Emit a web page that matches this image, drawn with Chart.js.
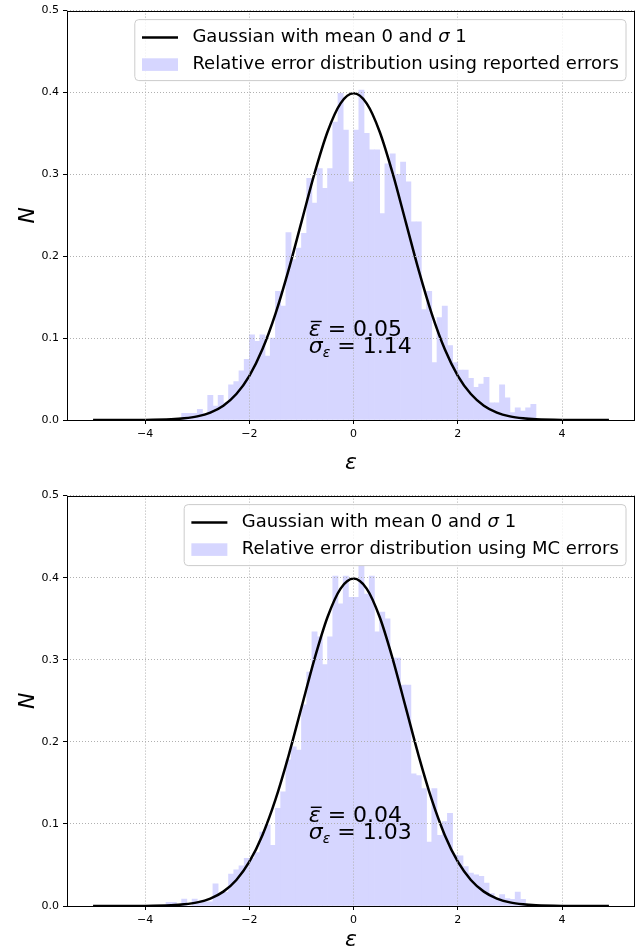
<!DOCTYPE html>
<html>
<head>
<meta charset="utf-8">
<script src="https://cdn.jsdelivr.net/npm/chart.js@4.4.1/dist/chart.umd.min.js"></script>
<style>
html,body{margin:0;padding:0;background:#fff;}
#wrap{position:relative;width:643px;height:948px;overflow:hidden;}
canvas{position:absolute;left:0;}
</style>
</head>
<body>
<div id="wrap">
<canvas id="topChart" width="643" height="480" style="top:0"></canvas>
<canvas id="bottomChart" width="643" height="463" style="top:485px"></canvas>
</div>
<script>
// histogram bins (width 0.1)
const binCenters = [-3.55,-3.45,-3.35,-3.25,-3.15,-3.05,-2.95,-2.85,-2.75,-2.65,-2.55,-2.45,-2.35,-2.25,-2.15,-2.05,
  -1.95,-1.85,-1.75,-1.65,-1.55,-1.45,-1.35,-1.25,-1.15,-1.05,-0.95,-0.85,-0.75,-0.65,-0.55,-0.45,-0.35,-0.25,-0.15,-0.05,
  0.05,0.15,0.25,0.35,0.45,0.55,0.65,0.75,0.85,0.95,1.05,1.15,1.25,1.35,1.45,1.55,1.65,1.75,1.85,1.95,
  2.05,2.15,2.25,2.35,2.45,2.55,2.65,2.75,2.85,2.95,3.05,3.15,3.25,3.35,3.45];

// reported errors
const topCounts = [0,0,0,0.008,0.008,0.008,0.013,0.008,0.030,0.017,0.030,0.021,0.043,0.047,0.060,0.074,
  0.104,0.096,0.104,0.078,0.100,0.157,0.139,0.229,0.196,0.210,0.228,0.295,0.265,0.307,0.283,0.307,0.364,0.399,0.354,0.291,
  0.354,0.403,0.350,0.330,0.330,0.252,0.313,0.325,0.300,0.315,0.291,0.242,0.242,0.135,0.157,0.070,0.125,0.139,0.091,0.070,
  0.061,0.061,0.051,0.040,0.044,0.052,0.021,0.021,0.043,0.027,0.009,0.015,0.011,0.015,0.019];

// MC errors
const bottomCounts = [0.0045,0.0045,0,0.0085,0,0.0085,0.005,0.005,0.005,0.027,0.015,0.017,0.039,0.044,0.049,0.058,
  0.058,0.065,0.090,0.099,0.074,0.119,0.139,0.178,0.194,0.190,0.245,0.285,0.334,0.328,0.294,0.328,0.402,0.368,0.402,0.376,
  0.376,0.415,0.380,0.402,0.334,0.358,0.350,0.302,0.302,0.269,0.269,0.161,0.159,0.143,0.078,0.143,0.086,0.103,0.113,0.062,
  0.061,0.048,0.040,0.038,0.036,0.028,0.015,0.009,0.014,0.009,0.008,0.017,0.008,0,0];

// gaussian curve
const gaussX = [-5,-4.5,-4,-3.5,-3.25,-3,-2.75,-2.5,-2.25,-2,-1.75,-1.5,-1.25,-1,-0.75,-0.5,-0.25,0,
  0.25,0.5,0.75,1,1.25,1.5,1.75,2,2.25,2.5,2.75,3,3.25,3.5,4,4.5,4.9];
const gaussY = [0,0.00002,0.00013,0.00087,0.00203,0.00443,0.00909,0.01753,0.03174,0.05399,0.08628,0.12952,0.18265,0.24197,0.30114,0.35207,0.38667,0.39894,
  0.38667,0.35207,0.30114,0.24197,0.18265,0.12952,0.08628,0.05399,0.03174,0.01753,0.00909,0.00443,0.00203,0.00087,0.00013,0.00002,0];

const xTickValues = [-4,-2,0,2,4];
const xTickLabels = ['\u22124','\u22122','0','2','4'];
const yTickValues = [0,0.1,0.2,0.3,0.4,0.5];
const yTickLabels = ['0.0','0.1','0.2','0.3','0.4','0.5'];

const gaussLabel = 'Gaussian with mean 0 and σ 1';
const topHistLabel = 'Relative error distribution using reported errors';
const bottomHistLabel = 'Relative error distribution using MC errors';
const topStats = ['0.05','1.14'];
const bottomStats = ['0.04','1.03'];

const HIST = '#d6d6ff';
const FAM = '"DejaVu Sans", sans-serif';
Chart.defaults.font.family = FAM;
Chart.defaults.color = '#000';

// draw text pieces, some italic / lowered
function runs(ctx, parts, x, y, draw) {
  let cx = x;
  parts.forEach(p => {
    ctx.font = p.f;
    if (draw) ctx.fillText(p.t, cx, y + (p.dy || 0));
    cx += ctx.measureText(p.t).width;
  });
  return cx - x;
}

function labelParts(txt) {
  const i = txt.indexOf('σ');
  const reg = '18px ' + FAM, it = 'italic 18px ' + FAM;
  if (i < 0) return [{t: txt, f: reg}];
  return [{t: txt.slice(0, i), f: reg}, {t: 'σ', f: it}, {t: txt.slice(i + 1), f: reg}];
}

function decor(histLabel, stats) {
  return {
    id: 'decor',
    afterDraw(chart) {
      const ctx = chart.ctx, ca = chart.chartArea;
      const xs = chart.scales.x, ys = chart.scales.y;
      ctx.save();
      ctx.fillStyle = '#000';
      ctx.textBaseline = 'alphabetic';

      // stats text
      const x0 = xs.getPixelForValue(-0.86);
      const b1 = ys.getPixelForValue(0.102), b2 = ys.getPixelForValue(0.082);
      const reg = '22px ' + FAM, it = 'italic 22px ' + FAM;
      ctx.font = it;
      const we = ctx.measureText('ε').width;
      runs(ctx, [{t: 'ε', f: it}, {t: ' = ' + stats[0], f: reg}], x0, b1, true);
      ctx.strokeStyle = '#000'; ctx.lineWidth = 1.4;
      ctx.beginPath(); ctx.moveTo(x0 + 2, b1 - 15); ctx.lineTo(x0 + we + 1, b1 - 15); ctx.stroke();
      runs(ctx, [{t: 'σ', f: it}, {t: 'ε', f: 'italic 14px ' + FAM, dy: 4}, {t: ' = ' + stats[1], f: reg}], x0, b2, true);

      // legend
      const rows = [labelParts(gaussLabel), labelParts(histLabel)];
      const tw = Math.max(...rows.map(r => runs(ctx, r, 0, 0, false)));
      const right = ca.right - 9, top = ca.top + 9;
      const left = right - (7.2 + 36 + 14.4 + tw + 7.2);
      const bottom = top + 61;
      const r = 4;
      ctx.beginPath();
      ctx.moveTo(left + r, top);
      ctx.arcTo(right, top, right, bottom, r);
      ctx.arcTo(right, bottom, left, bottom, r);
      ctx.arcTo(left, bottom, left, top, r);
      ctx.arcTo(left, top, right, top, r);
      ctx.closePath();
      ctx.fillStyle = 'rgba(255,255,255,0.8)';
      ctx.fill();
      ctx.strokeStyle = '#cccccc'; ctx.lineWidth = 1;
      ctx.stroke();

      const hx = left + 7.2, tx = hx + 36 + 14.4;
      const r1 = top + 18, r2 = top + 45;
      ctx.strokeStyle = '#000'; ctx.lineWidth = 2.5;
      ctx.beginPath(); ctx.moveTo(hx, r1); ctx.lineTo(hx + 36, r1); ctx.stroke();
      ctx.fillStyle = HIST;
      ctx.fillRect(hx, r2 - 6.3, 36, 12.6);
      ctx.fillStyle = '#000';
      ctx.textBaseline = 'middle';
      runs(ctx, rows[0], tx, r1, true);
      runs(ctx, rows[1], tx, r2, true);

      // axes frame
      ctx.strokeStyle = '#000'; ctx.lineWidth = 1;
      ctx.strokeRect(Math.round(ca.left) + 0.5, Math.round(ca.top) + 0.5,
        Math.round(ca.right - ca.left) - 1, Math.round(ca.bottom - ca.top));
      ctx.restore();
    }
  };
}

function makeChart(id, counts, histLabel, stats, xAxisHeight, xTitlePad) {
  const gridOpts = {color: '#b0b0b0', lineWidth: 1, tickColor: '#000', tickLength: 4, z: 1, offset: false};
  const borderOpts = {display: false, dash: [1, 2]};
  return new Chart(document.getElementById(id), {
    type: 'bar',
    data: {
      datasets: [{
        type: 'line',
        label: gaussLabel,
        data: gaussX.map((x, i) => ({x: x, y: gaussY[i]})),
        borderColor: '#000',
        borderWidth: 2.5,
        pointRadius: 0,
        cubicInterpolationMode: 'monotone',
        fill: false
      }, {
        type: 'bar',
        label: histLabel,
        data: binCenters.map((x, i) => ({x: x, y: counts[i]})),
        backgroundColor: HIST,
        borderWidth: 0,
        barPercentage: 1,
        categoryPercentage: 1
      }]
    },
    options: {
      responsive: false,
      animation: false,
      devicePixelRatio: 1,
      events: [],
      layout: {padding: {top: 10, right: 8, bottom: 0, left: 0}},
      plugins: {legend: {display: false}, tooltip: {enabled: false}},
      scales: {
        x: {
          type: 'linear', min: -5.5, max: 5.4, offset: false,
          afterBuildTicks: s => { s.ticks = xTickValues.map(v => ({value: v})); },
          afterFit: s => { s.height = xAxisHeight; },
          ticks: {callback: (v, i) => xTickLabels[i], font: {size: 11}, padding: 4, maxRotation: 0, autoSkip: false},
          grid: gridOpts,
          border: borderOpts,
          title: {display: true, text: 'ε', font: {size: 22, style: 'italic', lineHeight: 1}, padding: {top: 0, bottom: xTitlePad}}
        },
        y: {
          min: 0, max: 0.5,
          afterBuildTicks: s => { s.ticks = yTickValues.map(v => ({value: v})); },
          afterFit: s => { s.width = 67; },
          ticks: {callback: (v, i) => yTickLabels[i], font: {size: 11}, padding: 4},
          grid: gridOpts,
          border: borderOpts,
          title: {display: true, text: 'N', font: {size: 22, style: 'italic', lineHeight: 1}, padding: {top: 17, bottom: 0}}
        }
      }
    },
    plugins: [decor(histLabel, stats)]
  });
}

makeChart('topChart', topCounts, topHistLabel, topStats, 60, 6);
makeChart('bottomChart', bottomCounts, bottomHistLabel, bottomStats, 42, -3);
</script>
</body>
</html>
